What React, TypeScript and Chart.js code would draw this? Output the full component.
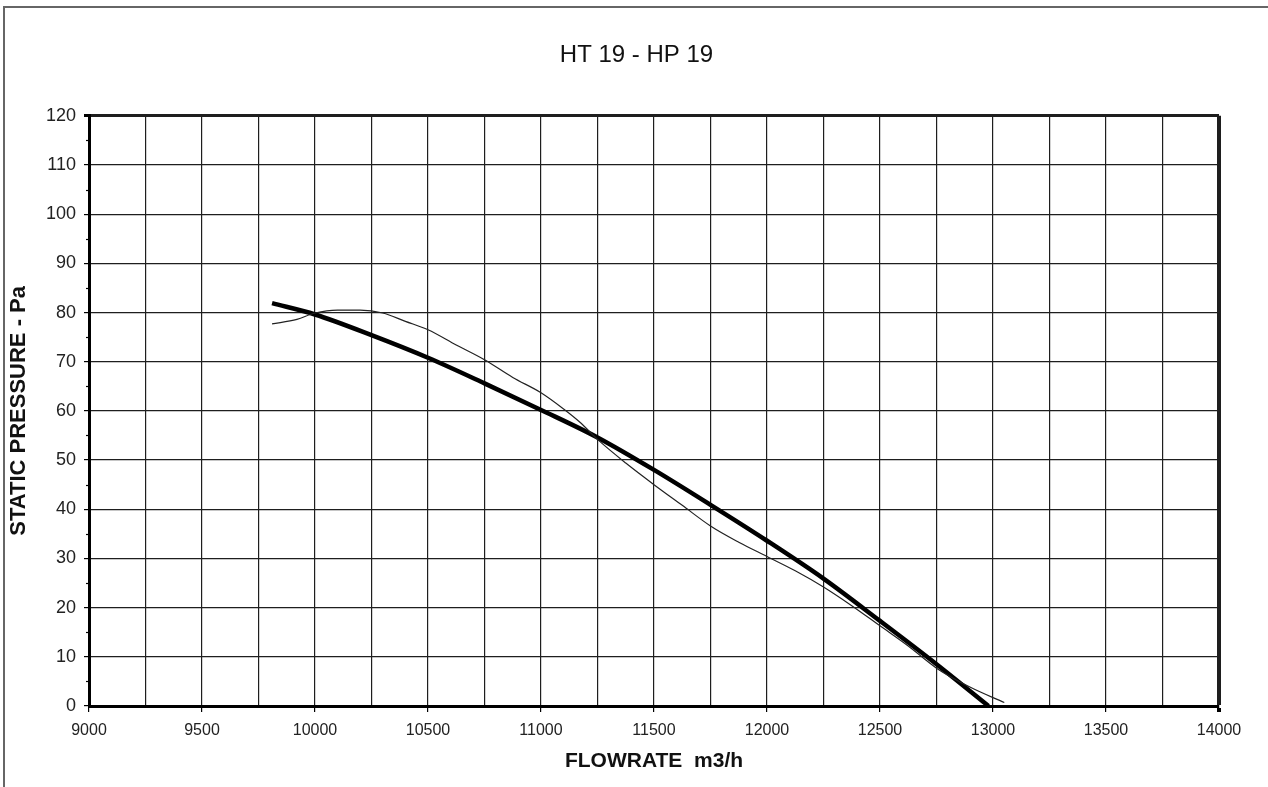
import React, { useEffect, useRef } from 'react';
import { Chart, registerables } from 'chart.js';

Chart.register(...registerables);

const chartTitle = 'HT 19 - HP 19';
const xAxisTitle = 'FLOWRATE  m3/h';
const yAxisTitle = 'STATIC PRESSURE - Pa';

// Thick curve (fan characteristic)
const flowThick = [9810, 10000, 10250, 10500, 10750, 11000, 11250, 11500, 11750, 12000, 12250, 12500, 12750, 12980];
const pressureThick = [81.9, 79.6, 75.4, 70.8, 65.6, 60.2, 54.6, 48.0, 40.9, 33.6, 25.9, 17.3, 8.5, 0];

// Thin curve
const flowThin = [9810, 9920, 10000, 10100, 10200, 10300, 10400, 10500, 10625, 10750, 10875, 11000, 11100, 11175, 11250, 11375, 11500, 11625, 11750, 11875, 12000, 12125, 12250, 12375, 12500, 12625, 12750, 12900, 13050];
const pressureThin = [77.7, 78.6, 79.9, 80.5, 80.5, 79.9, 78.2, 76.5, 73.4, 70.4, 66.8, 63.7, 60.4, 57.6, 54.2, 49.4, 45.0, 40.8, 36.6, 33.3, 30.4, 27.5, 24.2, 20.4, 16.3, 12.2, 7.7, 3.8, 0.7];

const xMin = 9000;
const xMax = 14000;
const xStep = 250;
const xLabelStep = 500;
const yMin = 0;
const yMax = 120;
const yStep = 10;
const yMinorStep = 5;

const FONT = '"Liberation Sans", Arial, Helvetica, sans-serif';

const minorTicksPlugin = {
  id: 'minorTicks',
  afterDraw(chart: any) {
    const { ctx, chartArea, scales } = chart;
    const y = scales.y;
    ctx.save();
    ctx.strokeStyle = '#000';
    ctx.lineWidth = 1.2;
    for (let v = yMin + yMinorStep; v < yMax; v += yStep) {
      const py = Math.round(y.getPixelForValue(v)) + 0.5;
      ctx.beginPath();
      ctx.moveTo(chartArea.left - 3, py);
      ctx.lineTo(chartArea.left, py);
      ctx.stroke();
    }
    ctx.restore();
  },
};

export default function App() {
  const canvasRef = useRef<HTMLCanvasElement | null>(null);

  useEffect(() => {
    if (!canvasRef.current) return;
    const chart = new Chart(canvasRef.current, {
      type: 'line',
      data: {
        datasets: [
          {
            data: flowThin.map((x, i) => ({ x, y: pressureThin[i] })),
            borderColor: '#222',
            borderWidth: 1.2,
            pointRadius: 0,
            cubicInterpolationMode: 'monotone',
            fill: false,
          },
          {
            data: flowThick.map((x, i) => ({ x, y: pressureThick[i] })),
            borderColor: '#000',
            borderWidth: 4.5,
            pointRadius: 0,
            cubicInterpolationMode: 'monotone',
            fill: false,
          },
        ],
      },
      options: {
        animation: false,
        responsive: false,
        events: [],
        layout: { padding: { top: 0, left: 0, right: 0, bottom: 0 } },
        plugins: {
          legend: { display: false },
          tooltip: { enabled: false },
          title: {
            display: true,
            text: chartTitle,
            color: '#111',
            font: { family: FONT, size: 24, weight: 'normal' },
            padding: { top: 33, bottom: 46 },
          },
        },
        scales: {
          x: {
            type: 'linear',
            min: xMin,
            max: xMax,
            afterFit(scale: any) {
              scale.height = 81;
            },
            ticks: {
              stepSize: xStep,
              autoSkip: false,
              maxRotation: 0,
              padding: 9,
              color: '#222',
              font: { family: FONT, size: 16 },
              callback: (v: any) => (Number(v) % xLabelStep === 0 ? String(v) : ''),
            },
            grid: {
              color: '#1e1e1e',
              lineWidth: (ctx: any) => (ctx.tick && ctx.tick.value === xMax ? 4 : 1.2),
              tickLength: 6,
              tickColor: (ctx: any) => (ctx.tick && ctx.tick.value % xLabelStep === 0 ? '#000' : 'rgba(0,0,0,0)'),
            },
            border: { display: true, color: '#000', width: 3 },
            title: {
              display: true,
              text: xAxisTitle,
              color: '#111',
              font: { family: FONT, size: 21, weight: 'bold' },
              padding: { top: 0, bottom: 13 },
            },
          },
          y: {
            type: 'linear',
            min: yMin,
            max: yMax,
            afterFit(scale: any) {
              scale.width = 84;
            },
            ticks: {
              stepSize: yStep,
              autoSkip: false,
              padding: 8,
              color: '#222',
              font: { family: FONT, size: 18 },
            },
            grid: {
              color: '#1e1e1e',
              lineWidth: (ctx: any) => (ctx.tick && ctx.tick.value === yMax ? 3 : 1.2),
              tickLength: 5,
              tickColor: '#000',
            },
            border: { display: true, color: '#000', width: 3 },
            title: {
              display: true,
              text: yAxisTitle,
              color: '#111',
              font: { family: FONT, size: 22, weight: 'bold' },
              padding: { top: 1, bottom: 0 },
            },
          },
          yRightSpacer: {
            type: 'linear',
            position: 'right',
            display: true,
            min: yMin,
            max: yMax,
            afterFit(scale: any) {
              scale.width = 49;
            },
            ticks: { display: false },
            grid: { display: false, drawOnChartArea: false },
            border: { display: false },
          },
        },
      } as any,
      plugins: [minorTicksPlugin],
    });
    return () => chart.destroy();
  }, []);

  return (
    <div
      style={{
        position: 'fixed',
        left: 3,
        top: 6,
        right: 0,
        bottom: 0,
        borderLeft: '2px solid #666',
        borderTop: '2px solid #666',
        background: '#fff',
        overflow: 'hidden',
      }}
    >
      <canvas ref={canvasRef} width={1263} height={779} style={{ display: 'block' }} />
    </div>
  );
}
